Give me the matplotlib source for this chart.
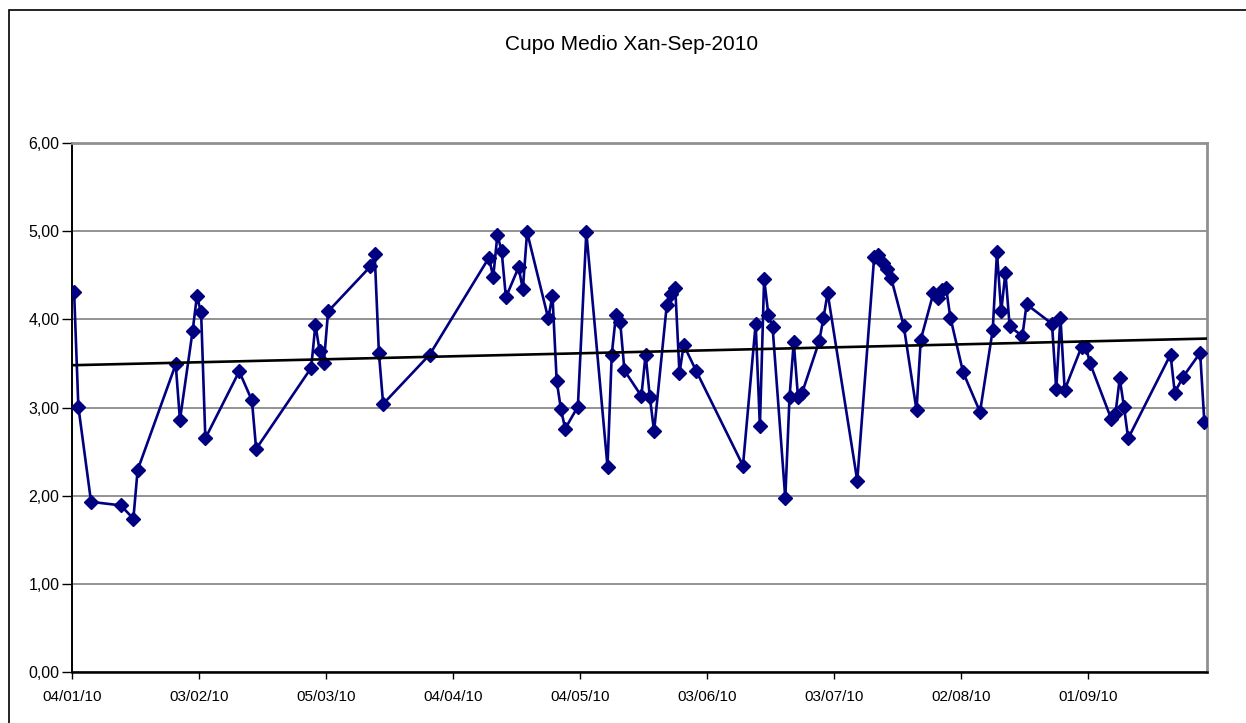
import matplotlib
matplotlib.use("Agg")
import matplotlib.pyplot as plt
import matplotlib.dates as mdates
from matplotlib.patches import Rectangle
import numpy as np
import pandas as pd

plt.rcParams['font.family'] = ['Liberation Sans', 'DejaVu Sans']

# data
dates = [
    "2010-01-04", "2010-01-05", "2010-01-08", "2010-01-15", "2010-01-18", "2010-01-19",
    "2010-01-28", "2010-01-29", "2010-02-01", "2010-02-02", "2010-02-03", "2010-02-04",
    "2010-02-12", "2010-02-15", "2010-02-16", "2010-03-01", "2010-03-02", "2010-03-03",
    "2010-03-04", "2010-03-05", "2010-03-15", "2010-03-16", "2010-03-17", "2010-03-18",
    "2010-03-29", "2010-04-12", "2010-04-13", "2010-04-14", "2010-04-15", "2010-04-16",
    "2010-04-19", "2010-04-20", "2010-04-21", "2010-04-26", "2010-04-27", "2010-04-28",
    "2010-04-29", "2010-04-30", "2010-05-03", "2010-05-05", "2010-05-10", "2010-05-11",
    "2010-05-12", "2010-05-13", "2010-05-14", "2010-05-18", "2010-05-19", "2010-05-20",
    "2010-05-21", "2010-05-24", "2010-05-25", "2010-05-26", "2010-05-27", "2010-05-28",
    "2010-05-31", "2010-06-11", "2010-06-14", "2010-06-15", "2010-06-16", "2010-06-17",
    "2010-06-18", "2010-06-21", "2010-06-22", "2010-06-23", "2010-06-24", "2010-06-25",
    "2010-06-29", "2010-06-30", "2010-07-01", "2010-07-08", "2010-07-12", "2010-07-13",
    "2010-07-14", "2010-07-15", "2010-07-16", "2010-07-19", "2010-07-22", "2010-07-23",
    "2010-07-26", "2010-07-27", "2010-07-28", "2010-07-29", "2010-07-30", "2010-08-02",
    "2010-08-06", "2010-08-09", "2010-08-10", "2010-08-11", "2010-08-12", "2010-08-13",
    "2010-08-16", "2010-08-17", "2010-08-23", "2010-08-24", "2010-08-25", "2010-08-26",
    "2010-08-30", "2010-08-31", "2010-09-01", "2010-09-06", "2010-09-07", "2010-09-08",
    "2010-09-09", "2010-09-10", "2010-09-20", "2010-09-21", "2010-09-23", "2010-09-27",
    "2010-09-28",
]
values = [
    4.31, 3.01, 1.93, 1.89, 1.74, 2.29,
    3.49, 2.86, 3.87, 4.26, 4.08, 2.65,
    3.41, 3.08, 2.53, 3.45, 3.94, 3.64,
    3.51, 4.09, 4.60, 4.74, 3.62, 3.04,
    3.60, 4.70, 4.48, 4.96, 4.77, 4.25,
    4.59, 4.34, 4.99, 4.01, 4.27, 3.30,
    2.98, 2.76, 3.01, 4.99, 2.33, 3.60,
    4.05, 3.97, 3.42, 3.13, 3.60, 3.12,
    2.73, 4.16, 4.29, 4.36, 3.39, 3.71,
    3.41, 2.34, 3.95, 2.79, 4.46, 4.05,
    3.91, 1.97, 3.12, 3.74, 3.12, 3.17,
    3.75, 4.01, 4.30, 2.17, 4.71, 4.73,
    4.64, 4.57, 4.47, 3.92, 2.97, 3.77,
    4.30, 4.24, 4.33, 4.35, 4.02, 3.40,
    2.95, 3.88, 4.76, 4.09, 4.53, 3.92,
    3.81, 4.17, 3.95, 3.21, 4.02, 3.20,
    3.69, 3.69, 3.50, 2.87, 2.93, 3.33,
    3.01, 2.65, 3.60, 3.17, 3.35, 3.62,
    2.83,
]
title = "Cupo Medio Xan-Sep-2010"
axis_start = "2010-01-04"
axis_days = 268
tick_step = 30

W, H = 1246, 723
fig = plt.figure(figsize=(W / 100, H / 100), dpi=100)
ax = fig.add_axes([72 / W, 1 - 672 / H, (1206.5 - 72) / W, (672 - 143) / H])

x0 = mdates.date2num(pd.Timestamp(axis_start))
x = mdates.date2num(pd.to_datetime(dates)) + 0.5  # points sit mid-day like excel
y = np.array(values)

ax.plot(x, y, color='#000080', lw=1.9, marker='D', ms=7.6, mfc='#000080', mec='#000080', zorder=3)

# linear trend
k, b = np.polyfit(x, y, 1)
tx = np.array([x0, x0 + axis_days])
ax.plot(tx, k * tx + b, color='black', lw=1.9, zorder=4)

ax.set_xlim(x0, x0 + axis_days)
ax.set_ylim(0, 6)
ticks = x0 + np.arange(0, axis_days, tick_step)
ax.set_xticks(ticks)
ax.set_xticklabels([mdates.num2date(t).strftime('%d/%m/%y') for t in ticks], fontsize=11)
ax.set_yticks(np.arange(0, 7, 1))
ax.set_yticklabels([f"{v:.2f}".replace('.', ',') for v in np.arange(0, 7, 1)], fontsize=11.5)
ax.tick_params(axis='x', length=5, width=1, pad=8, direction='out')
ax.tick_params(axis='y', length=7, width=1, pad=2, direction='out')
ax.yaxis.grid(True, color='#808080', lw=1.2)
ax.set_axisbelow(True)

for s in ['top', 'right']:
    ax.spines[s].set_color('#909090')
    ax.spines[s].set_linewidth(2)
ax.spines['left'].set_color('black')
ax.spines['left'].set_linewidth(1.4)
ax.spines['bottom'].set_color('black')
ax.spines['bottom'].set_linewidth(1.8)

fig.text(632 / W, 1 - 44 / H, title, ha='center', va='center', fontsize=15)

# chart area frame
fig.patches.append(Rectangle((9 / W, -0.05), 1.1, 1 - 10 / H + 0.05, transform=fig.transFigure,
                             fill=False, edgecolor='black', lw=1.2, clip_on=False))

fig.savefig('out.png', dpi=100)
